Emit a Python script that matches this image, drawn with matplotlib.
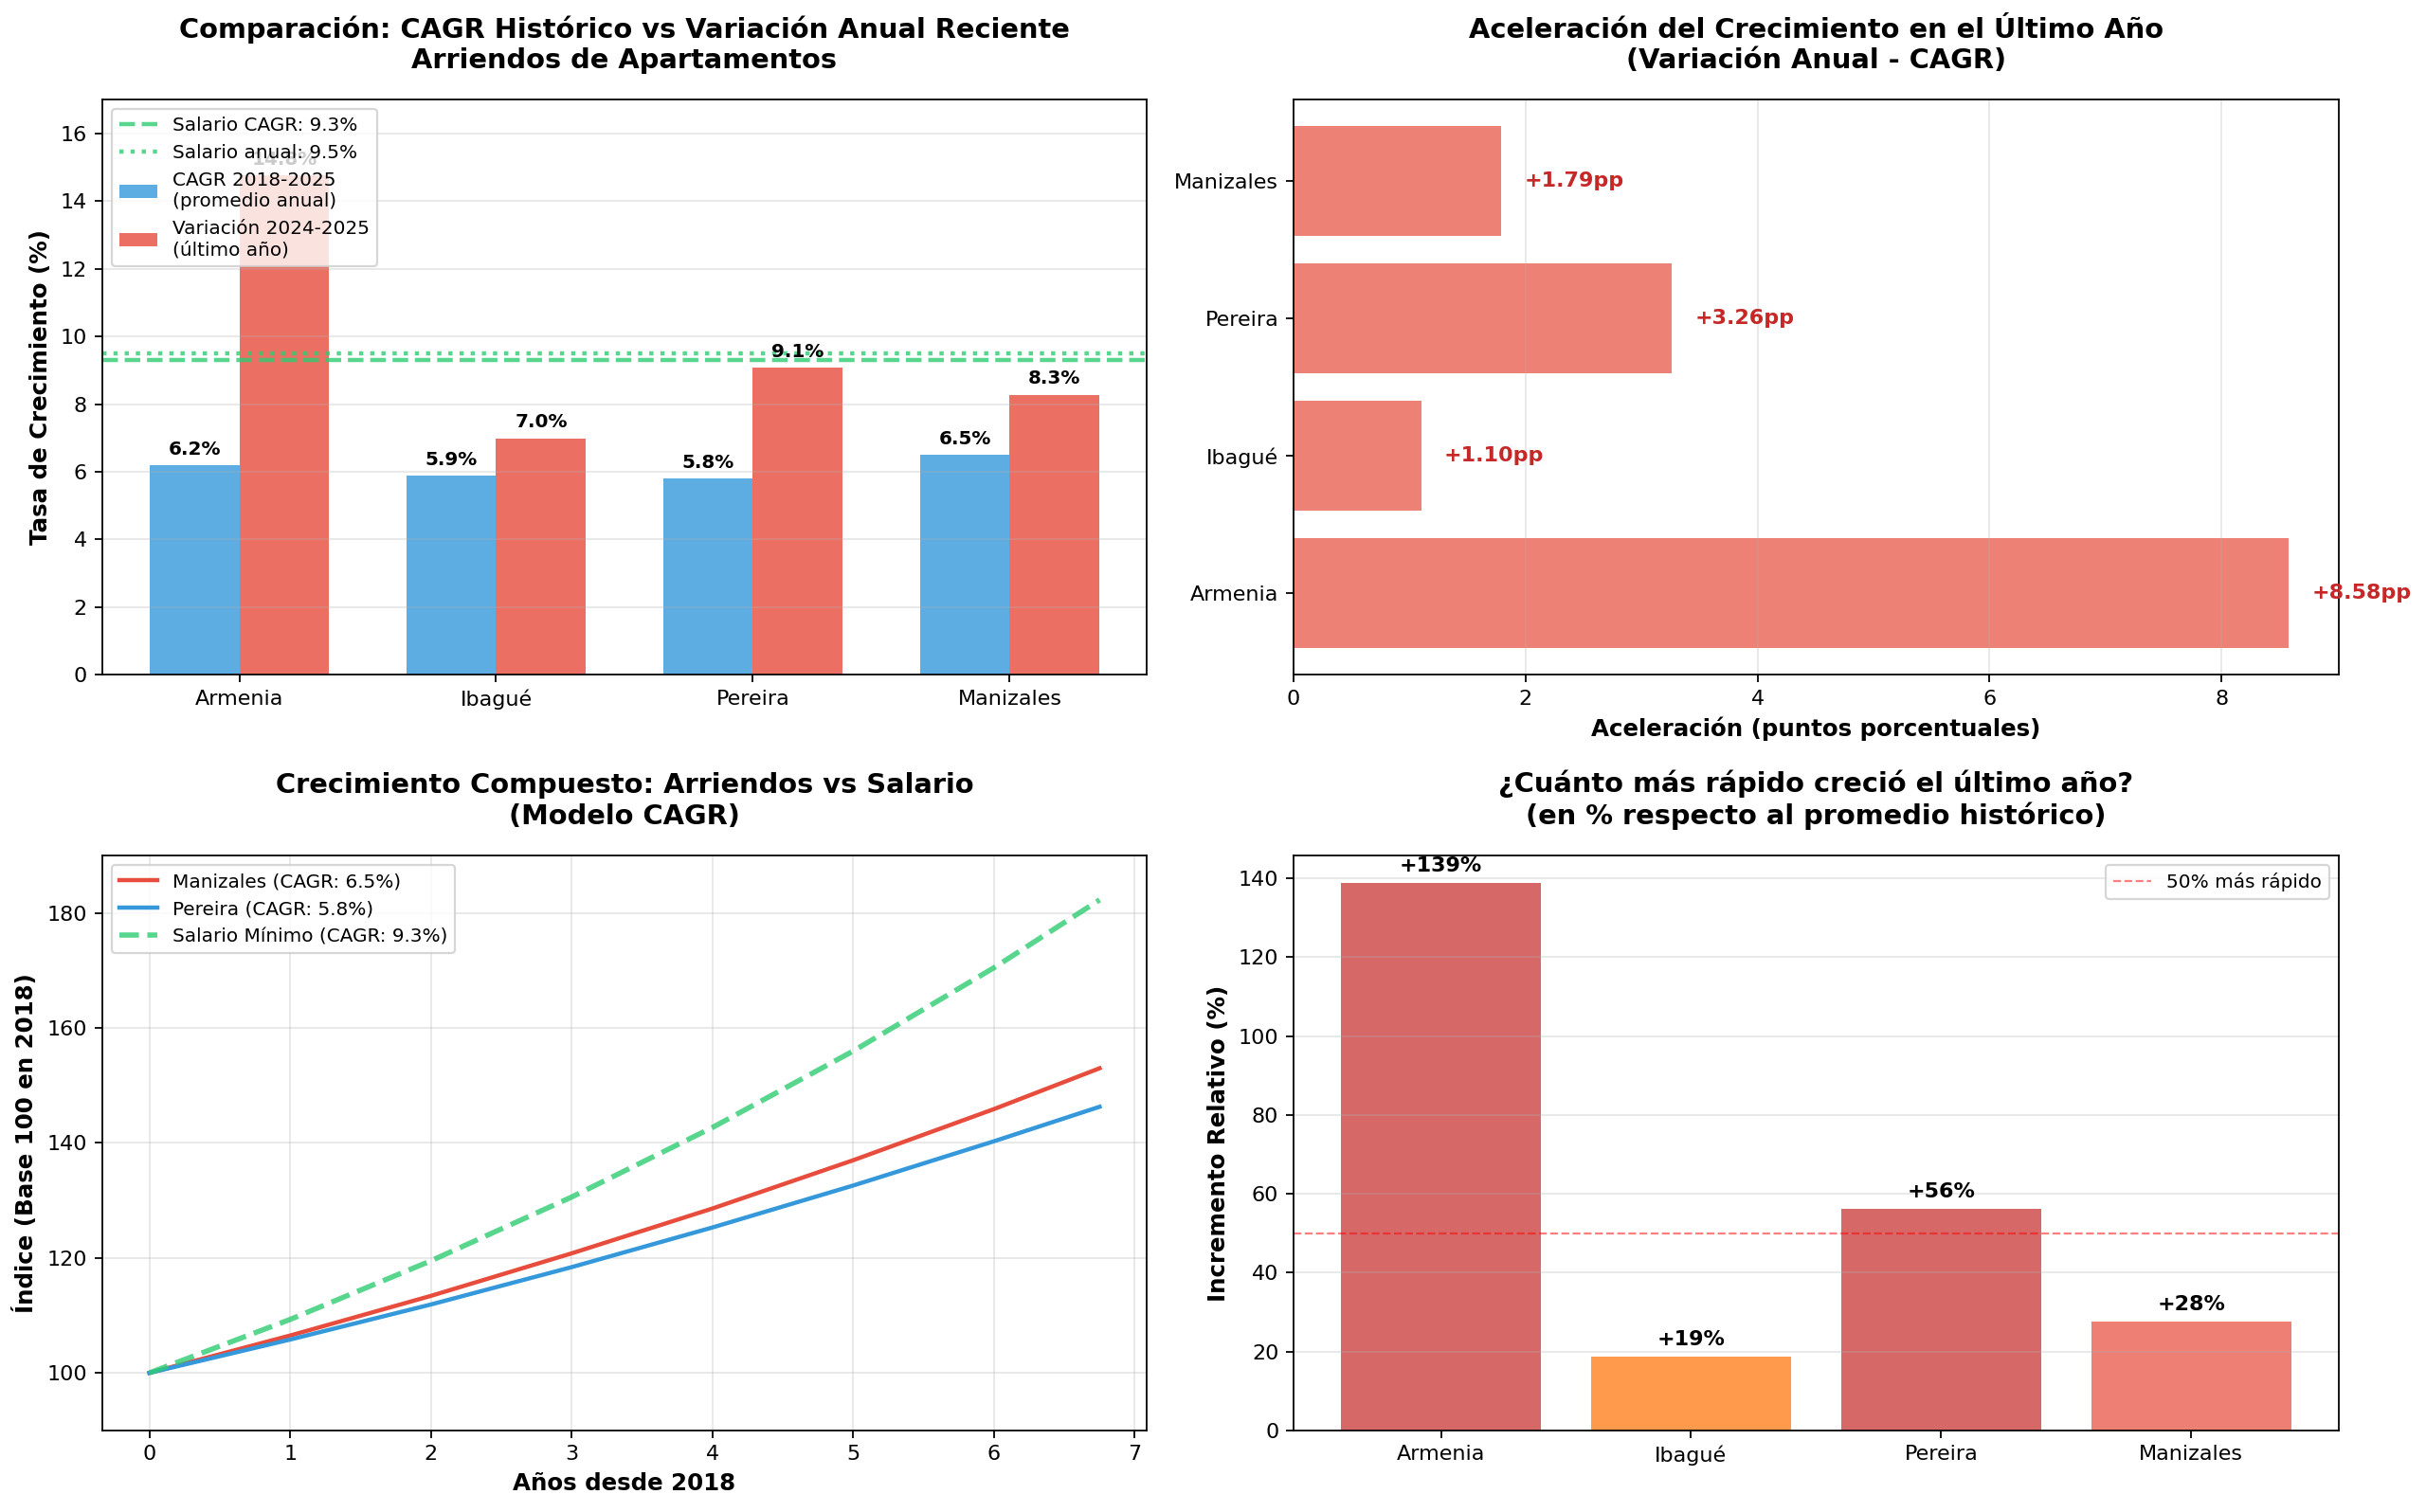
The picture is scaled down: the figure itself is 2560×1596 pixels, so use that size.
import matplotlib
matplotlib.use("Agg")
import matplotlib.pyplot as plt
import numpy as np

ciudades = ["Armenia", "Ibagué", "Pereira", "Manizales"]
cagr = [6.18, 5.89, 5.81, 6.49]
variacion = [14.76, 6.99, 9.07, 8.28]
salario_cagr = 9.3
salario_anual = 9.5

# Índice compuesto (lectura de la gráfica)
anios = [0, 1, 2, 3, 4, 5, 6, 6.75]
idx_manizales = [100, 106.5, 113.4, 120.8, 128.6, 137.0, 145.9, 153.0]
idx_pereira = [100, 105.8, 111.9, 118.4, 125.3, 132.6, 140.3, 146.3]
idx_salario = [100, 109.3, 119.5, 130.6, 142.7, 156.0, 170.5, 182.3]

aceleracion = [v - c for v, c in zip(variacion, cagr)]
relativo = [a / c * 100 for a, c in zip(aceleracion, cagr)]
colores_rel = ["#d66868", "#ff9a4d", "#d66868", "#ed7f74"]

fig, axes = plt.subplots(2, 2, figsize=(16, 9.975), dpi=160)
fig.subplots_adjust(left=0.042, right=0.964, top=0.934, bottom=0.054,
                    wspace=0.14, hspace=0.315)

TPAD = 15
LFS = 11

# --- Panel 1
ax = axes[0, 0]
x = np.arange(len(ciudades))
w = 0.35
ax.axhline(salario_cagr, color="#2ecc71", linestyle="--", linewidth=2, alpha=0.8,
           label=f"Salario CAGR: {salario_cagr}%")
ax.axhline(salario_anual, color="#2ecc71", linestyle=":", linewidth=2, alpha=0.8,
           label=f"Salario anual: {salario_anual}%")
b1 = ax.bar(x - w / 2, cagr, w, color="#3498db", alpha=0.8,
            label="CAGR 2018-2025\n(promedio anual)")
b2 = ax.bar(x + w / 2, variacion, w, color="#e74c3c", alpha=0.8,
            label="Variación 2024-2025\n(último año)")
for bars, vals in ((b1, cagr), (b2, variacion)):
    for r, v in zip(bars, vals):
        ax.text(r.get_x() + r.get_width() / 2, v + 0.2, f"{v:.1f}%",
                ha="center", va="bottom", fontsize=9, fontweight="bold")
ax.set_xticks(x)
ax.set_xticklabels(ciudades)
ax.set_ylim(0, 17)
ax.set_ylabel("Tasa de Crecimiento (%)", fontsize=LFS, fontweight="bold")
ax.set_title("Comparación: CAGR Histórico vs Variación Anual Reciente\nArriendos de Apartamentos",
             fontsize=13, fontweight="bold", pad=TPAD)
ax.legend(loc="upper left", fontsize=9)
ax.grid(axis="y", alpha=0.3)

# --- Panel 2
ax = axes[0, 1]
y = np.arange(len(ciudades))
ax.barh(y, aceleracion, color="#e74c3c", alpha=0.7)
for yi, a in zip(y, aceleracion):
    ax.text(a + 0.2, yi, f"+{a:.2f}pp", va="center", ha="left", fontsize=10,
            fontweight="bold", color="#c62828")
ax.set_yticks(y)
ax.set_yticklabels(ciudades)
ax.set_xlabel("Aceleración (puntos porcentuales)", fontsize=LFS, fontweight="bold")
ax.set_title("Aceleración del Crecimiento en el Último Año\n(Variación Anual - CAGR)",
             fontsize=13, fontweight="bold", pad=TPAD)
ax.grid(axis="x", alpha=0.3)

# --- Panel 3
ax = axes[1, 0]
ax.plot(anios, idx_manizales, color="#e74c3c", linewidth=2,
        label=f"Manizales (CAGR: {cagr[3]:.1f}%)")
ax.plot(anios, idx_pereira, color="#3498db", linewidth=2,
        label=f"Pereira (CAGR: {cagr[2]:.1f}%)")
ax.plot(anios, idx_salario, color="#2ecc71", linewidth=2.5, linestyle="--", alpha=0.8,
        label=f"Salario Mínimo (CAGR: {salario_cagr}%)")
ax.set_ylim(90, 190)
ax.set_xlabel("Años desde 2018", fontsize=LFS, fontweight="bold")
ax.set_ylabel("Índice (Base 100 en 2018)", fontsize=LFS, fontweight="bold")
ax.set_title("Crecimiento Compuesto: Arriendos vs Salario\n(Modelo CAGR)",
             fontsize=13, fontweight="bold", pad=TPAD)
ax.legend(loc="upper left", fontsize=9)
ax.grid(alpha=0.3)

# --- Panel 4
ax = axes[1, 1]
bars = ax.bar(ciudades, relativo, color=colores_rel)
for r, v in zip(bars, relativo):
    ax.text(r.get_x() + r.get_width() / 2, v + 2, f"+{v:.0f}%",
            ha="center", va="bottom", fontsize=10, fontweight="bold")
ax.axhline(50, color="red", linestyle="--", linewidth=1, alpha=0.5, label="50% más rápido")
ax.set_ylabel("Incremento Relativo (%)", fontsize=LFS, fontweight="bold")
ax.set_title("¿Cuánto más rápido creció el último año?\n(en % respecto al promedio histórico)",
             fontsize=13, fontweight="bold", pad=TPAD)
ax.legend(loc="upper right", fontsize=9)
ax.grid(axis="y", alpha=0.3)

fig.savefig("out.png", dpi=160)
